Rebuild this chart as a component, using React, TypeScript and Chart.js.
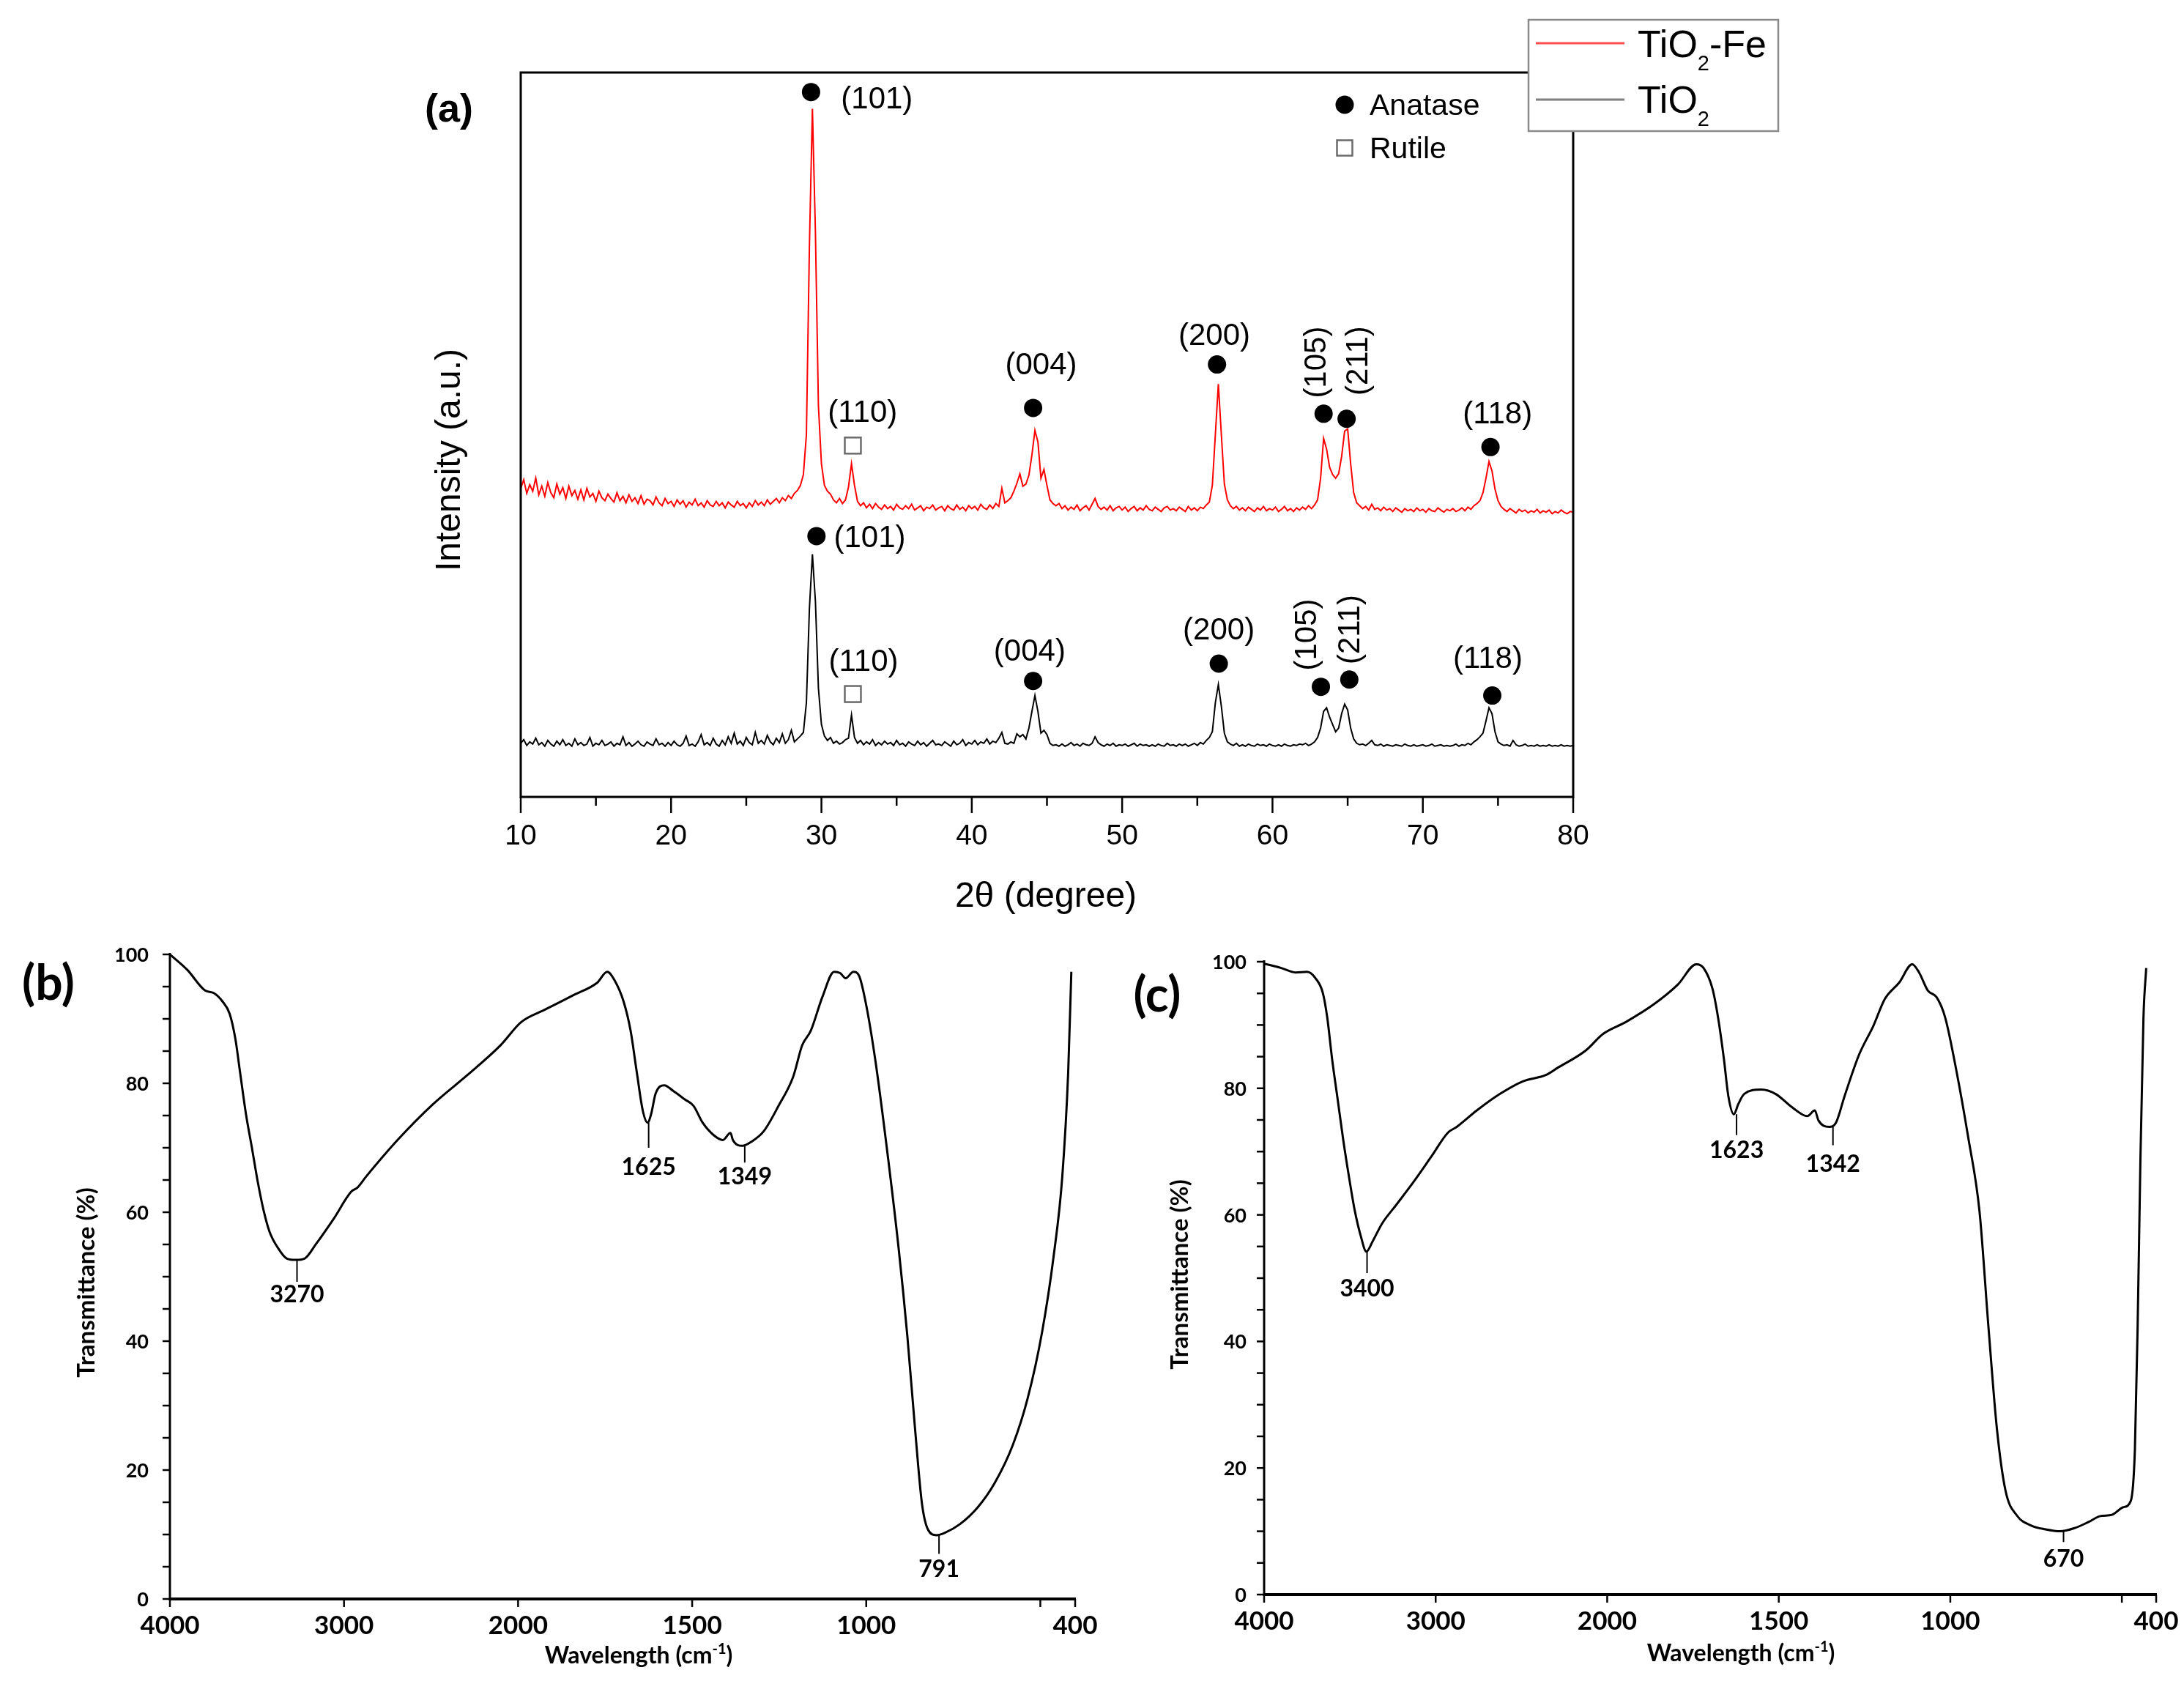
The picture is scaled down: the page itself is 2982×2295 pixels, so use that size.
import React, { useEffect, useRef } from 'react';
import Chart from 'chart.js/auto';

const SANS = '"Liberation Sans", Arial, sans-serif';
const LATO = 'Lato, "DejaVu Sans", sans-serif';

// ---------- (a) XRD ----------
// 2θ sampling grid, one reading every 0.2°
const twoTheta = Array.from({ length: 351 }, (_, i) => Math.round(100 + i * 2) / 10);

const xrdFe = [
  42.6, 43.8, 41.9, 43.1, 42.2, 44.0, 41.7, 42.9, 41.5, 43.4, // 10
  42.0, 41.3, 43.2, 41.8, 42.7, 41.2, 42.9, 41.6, 42.3, 41.1, // 12
  42.4, 41.0, 42.6, 41.4, 41.9, 40.8, 42.2, 41.3, 40.9, 41.8, // 14
  41.2, 40.7, 42.0, 40.9, 41.5, 40.6, 41.7, 40.8, 41.3, 40.5, // 16
  41.6, 40.4, 41.1, 40.9, 40.3, 41.4, 40.6, 40.2, 41.2, 40.5, // 18
  40.8, 40.1, 41.0, 40.4, 40.9, 40.0, 40.7, 40.3, 41.1, 40.2, // 20
  40.6, 40.0, 40.9, 40.3, 40.1, 40.8, 40.2, 40.6, 39.9, 40.7, // 22
  40.3, 40.0, 40.8, 40.2, 40.5, 39.9, 40.6, 40.1, 40.9, 40.3, // 24
  40.7, 40.2, 41.0, 40.4, 40.8, 41.2, 40.6, 41.3, 40.9, 41.6, // 26
  41.2, 41.9, 42.3, 43.0, 44.5, 50.0, 76.0, 95.0, 78.0, 54.0, // 28
  46.0, 43.0, 42.2, 41.8, 41.0, 40.6, 41.2, 40.5, 41.0, 42.8, // 30
  46.0, 43.0, 40.8, 40.2, 40.6, 39.9, 40.4, 39.8, 40.5, 40.0, // 32
  39.7, 40.3, 39.8, 40.1, 39.6, 40.4, 39.9, 39.7, 40.2, 39.8, // 34
  40.4, 39.6, 39.9, 40.2, 39.5, 40.0, 39.8, 40.3, 39.6, 39.9, // 36
  40.1, 39.5, 40.2, 39.8, 39.6, 40.3, 39.7, 40.0, 39.5, 40.2, // 38
  39.8, 40.1, 39.6, 40.4, 39.9, 39.7, 40.3, 39.8, 40.5, 40.1, // 40
  42.6, 40.6, 40.9, 41.3, 42.2, 43.3, 44.6, 42.9, 43.2, 44.4, // 42
  47.2, 50.6, 49.0, 44.0, 45.2, 43.0, 41.0, 40.5, 40.2, 40.5, // 44
  39.8, 40.2, 39.6, 40.0, 39.7, 40.3, 39.5, 39.9, 40.2, 39.6, // 46
  40.4, 41.2, 40.1, 39.7, 40.0, 39.6, 40.2, 39.5, 39.9, 40.1, // 48
  39.6, 40.0, 39.4, 39.8, 40.1, 39.5, 39.9, 39.6, 40.2, 39.7, // 50
  39.5, 40.0, 39.7, 39.4, 39.9, 40.1, 39.6, 39.8, 39.5, 40.0, // 52
  39.7, 39.4, 40.1, 39.6, 39.9, 39.5, 40.0, 39.8, 40.3, 40.7, // 54
  43.0, 50.0, 57.0, 50.0, 43.2, 41.0, 40.2, 39.8, 40.1, 39.6, // 56
  39.9, 39.5, 40.0, 39.7, 39.4, 39.9, 39.6, 40.1, 39.5, 39.8, // 58
  39.6, 40.0, 39.4, 39.7, 40.1, 39.5, 39.8, 39.4, 39.9, 39.6, // 60
  40.0, 39.7, 40.2, 39.8, 40.3, 41.0, 44.0, 49.5, 48.0, 45.5, // 62
  44.5, 44.0, 44.6, 47.0, 50.5, 50.8, 46.0, 42.0, 40.6, 40.2, // 64
  39.8, 40.1, 39.6, 40.4, 39.7, 39.9, 39.5, 40.0, 39.6, 39.8, // 66
  39.4, 39.9, 39.6, 39.3, 39.8, 39.5, 39.7, 39.4, 39.9, 39.5, // 68
  39.7, 39.3, 39.8, 39.5, 39.4, 39.9, 39.6, 39.3, 39.7, 39.5, // 70
  39.8, 39.4, 39.6, 39.9, 39.5, 40.0, 39.7, 40.2, 40.5, 40.9, // 72
  42.0, 44.0, 46.3, 45.0, 42.5, 40.9, 40.1, 39.7, 39.4, 39.8, // 74
  39.5, 39.2, 39.7, 39.4, 39.6, 39.2, 39.5, 39.3, 39.7, 39.2, // 76
  39.5, 39.3, 39.6, 39.1, 39.4, 39.2, 39.6, 39.3, 39.1, 39.4, // 78
  39.3, // 80
];

const xrdTiO2 = [
  7.4, 7.9, 7.1, 7.6, 7.3, 8.1, 7.2, 7.5, 7.0, 7.8, // 10
  7.3, 7.0, 7.7, 7.2, 7.9, 7.1, 7.4, 7.0, 8.0, 7.2, // 12
  7.5, 7.1, 7.3, 8.2, 7.0, 7.4, 7.2, 7.8, 7.1, 7.3, // 14
  7.6, 7.0, 7.4, 7.2, 8.3, 7.1, 7.5, 7.0, 7.3, 7.7, // 16
  7.2, 7.0, 7.6, 7.3, 7.1, 8.0, 7.2, 7.4, 7.0, 7.5, // 18
  7.1, 7.7, 7.2, 7.0, 7.4, 8.4, 7.1, 7.3, 7.0, 7.6, // 20
  8.6, 7.2, 7.5, 7.1, 8.1, 7.3, 7.0, 7.8, 7.2, 8.3, // 22
  7.4, 8.8, 7.3, 7.7, 7.1, 8.2, 7.5, 7.2, 8.9, 7.4, // 24
  7.8, 7.3, 8.5, 7.6, 7.2, 8.1, 7.5, 8.7, 7.4, 7.9, // 26
  9.2, 7.6, 8.0, 8.4, 8.9, 13.0, 26.0, 33.5, 27.0, 15.0, // 28
  10.0, 8.4, 7.8, 8.2, 7.4, 7.7, 7.3, 7.5, 7.9, 8.1, // 30
  11.3, 8.2, 7.4, 7.8, 7.2, 7.6, 7.3, 7.9, 7.1, 7.5, // 32
  7.2, 7.7, 7.3, 7.5, 7.1, 7.8, 7.2, 7.4, 7.0, 7.6, // 34
  7.3, 7.1, 7.7, 7.2, 7.5, 7.0, 7.4, 7.8, 7.2, 7.3, // 36
  7.1, 7.6, 7.3, 7.0, 7.7, 7.2, 7.4, 7.9, 7.1, 7.5, // 38
  7.3, 7.8, 7.2, 7.6, 7.4, 8.0, 7.3, 7.7, 7.5, 8.1, // 40
  8.9, 7.4, 7.3, 7.6, 7.4, 8.7, 8.3, 8.6, 8.0, 9.5, // 42
  11.8, 14.0, 11.8, 8.8, 9.2, 8.6, 7.4, 7.1, 7.2, 7.0, // 44
  7.3, 7.0, 7.2, 7.5, 7.1, 7.3, 7.0, 7.4, 7.2, 7.1, // 46
  7.4, 8.3, 7.5, 7.2, 7.0, 7.3, 7.1, 7.4, 7.0, 7.2, // 48
  7.1, 7.3, 7.0, 7.2, 7.4, 7.0, 7.3, 7.1, 7.2, 7.0, // 50
  7.2, 7.0, 7.3, 7.1, 7.0, 7.4, 7.1, 7.2, 7.0, 7.3, // 52
  7.1, 7.3, 7.0, 7.2, 7.4, 7.1, 7.5, 7.3, 7.8, 8.2, // 54
  9.0, 13.0, 15.5, 12.5, 8.8, 7.6, 7.3, 7.1, 7.4, 7.0, // 56
  7.2, 7.0, 7.3, 7.1, 7.0, 7.3, 7.1, 7.2, 7.0, 7.3, // 58
  7.1, 7.0, 7.2, 7.0, 7.3, 7.1, 7.0, 7.2, 7.1, 7.3, // 60
  7.2, 7.4, 7.1, 7.3, 7.6, 8.2, 9.5, 11.8, 12.3, 11.0, // 62
  10.0, 9.0, 9.5, 11.5, 12.8, 12.0, 9.5, 8.0, 7.4, 7.2, // 64
  7.3, 7.1, 7.4, 7.8, 7.2, 7.1, 7.3, 7.0, 7.2, 7.1, // 66
  7.0, 7.2, 7.1, 7.0, 7.3, 7.1, 7.0, 7.2, 7.0, 7.1, // 68
  7.2, 7.0, 7.1, 7.3, 7.0, 7.1, 7.2, 7.0, 7.1, 7.0, // 70
  7.1, 7.3, 7.0, 7.2, 7.1, 7.4, 7.2, 7.6, 7.9, 8.3, // 72
  8.8, 10.5, 12.3, 11.5, 9.0, 7.6, 7.3, 7.1, 7.2, 7.0, // 74
  7.8, 7.2, 7.0, 7.1, 7.3, 7.0, 7.1, 7.0, 7.2, 7.0, // 76
  7.1, 7.0, 7.2, 7.0, 7.1, 7.0, 7.2, 7.0, 7.1, 7.0, // 78
  7.1, // 80
];

const xrdTicks = [10, 15, 20, 25, 30, 35, 40, 45, 50, 55, 60, 65, 70, 75, 80];

// reflections, marker / label positions in (2θ, intensity) units
const peakNames = ['(101)', '(110)', '(004)', '(200)', '(105)', '(211)', '(118)'];
const peakRutile = [false, true, false, false, false, false, false];
const peakRotated = [false, false, false, false, true, true, false];
const feMarkX = [29.31, 32.09, 44.08, 56.31, 63.4, 64.93, 74.5];
const feMarkY = [97.3, 48.5, 53.7, 59.7, 52.9, 52.2, 48.3];
const feLabelX = [33.69, 32.74, 44.61, 56.13, 62.98, 65.76, 74.97];
const feLabelY = [96.2, 52.9, 59.5, 63.5, 60.0, 60.2, 52.7];
const tiMarkX = [29.67, 32.09, 44.08, 56.43, 63.22, 65.11, 74.62];
const tiMarkY = [36.0, 14.2, 16.0, 18.4, 15.2, 16.2, 14.0];
const tiLabelX = [33.21, 32.8, 43.85, 56.43, 62.39, 65.23, 74.32];
const tiLabelY = [35.6, 18.5, 19.9, 22.9, 22.4, 23.1, 18.9];

// ---------- (b), (c) FTIR ----------
const ftirTickWaves = [4000, 3000, 2000, 1500, 1000, 500, 400];
const ftirTickLabels = ['4000', '3000', '2000', '1500', '1000', '', '400'];
const ftirYTicks = [0, 5, 10, 15, 20, 25, 30, 35, 40, 45, 50, 55, 60, 65, 70, 75, 80, 85, 90, 95, 100];

const bWave = [4000, 3900, 3798, 3748, 3698, 3657, 3624, 3597, 3563, 3529, 3496, 3462, 3428, 3378, 3328, 3277, 3227, 3160, 3059, 2958,
  2924, 2874, 2689, 2487, 2286, 2101, 1991, 1924, 1840, 1773, 1744, 1723, 1697, 1677, 1659, 1642, 1628, 1618, 1605, 1580,
  1554, 1521, 1496, 1470, 1437, 1412, 1390, 1383, 1356, 1328, 1294, 1252, 1210, 1184, 1159, 1126, 1092, 1075, 1059, 1037,
  1020, 1000, 974, 941, 907, 882, 860, 840, 823, 798, 773, 731, 680, 630, 579, 537, 495, 462, 437, 420, 411];
const bTrans = [100, 97.6, 94.4, 94.0, 92.7, 90.8, 86.9, 81.7, 75.2, 70.0, 64.8, 60.3, 57.0, 54.4, 52.8, 52.6, 52.8, 55.1, 59.0, 63.2,
  63.8, 65.5, 71.3, 76.8, 81.4, 85.9, 89.5, 91.4, 93.7, 95.6, 97.3, 96.0, 92.7, 88.2, 81.7, 75.8, 73.9, 75.2, 78.4, 79.7,
  78.8, 77.5, 76.5, 73.9, 71.9, 71.2, 72.3, 71.2, 70.3, 71.0, 72.6, 76.5, 81.0, 85.9, 88.2, 93.4, 97.3, 97.1, 96.3, 97.3,
  96.6, 92.1, 83.6, 70.0, 54.4, 40.8, 26.5, 14.8, 10.8, 9.9, 10.3, 11.6, 14.2, 18.1, 23.9, 31.0, 41.4, 53.1, 65.5, 81.7, 97.3];
const bPeakWave = [3270, 1625, 1349, 791];
const bPeakTop = [52.6, 73.9, 70.3, 9.9];
const bPeakBottom = [49.2, 70.0, 67.7, 7.0];
const bPeakLabel = [47.3, 67.1, 65.6, 4.7];

const cWave = [4000, 3900, 3816, 3749, 3698, 3658, 3632, 3604, 3571, 3538, 3504, 3471, 3437, 3404, 3364, 3313, 3229, 3129, 3028, 2928,
  2877, 2760, 2626, 2492, 2358, 2291, 2124, 2024, 1945, 1861, 1794, 1740, 1719, 1693, 1677, 1660, 1647, 1631, 1618, 1601,
  1551, 1509, 1459, 1417, 1395, 1384, 1353, 1333, 1308, 1266, 1224, 1191, 1149, 1111, 1091, 1065, 1040, 1015, 982, 948,
  915, 889, 864, 839, 806, 764, 722, 680, 638, 596, 563, 529, 496, 474, 462, 454, 446, 437, 429];
const cTrans = [99.7, 99.0, 98.3, 98.4, 97.3, 95.1, 91.2, 84.7, 78.2, 71.7, 65.8, 60.6, 56.7, 54.2, 56.0, 58.6, 61.6, 65.2, 69.1, 73.0,
  73.9, 76.5, 79.1, 81.1, 82.1, 83.2, 86.0, 88.6, 90.5, 93.4, 96.4, 99.6, 99.0, 95.7, 91.2, 84.7, 78.8, 75.9, 77.5, 79.1,
  79.8, 79.1, 76.9, 75.6, 76.5, 74.9, 73.9, 74.6, 78.8, 85.3, 89.9, 94.1, 96.7, 99.6, 98.3, 95.4, 94.4, 91.2, 82.7, 72.3,
  60.6, 42.4, 26.1, 16.4, 12.5, 10.9, 10.3, 10.0, 10.5, 11.5, 12.4, 12.6, 13.8, 14.8, 22.9, 42.4, 68.4, 91.2, 99.0];
const cPeakWave = [3400, 1623, 1342, 670];
const cPeakTop = [54.2, 75.9, 73.9, 10.0];
const cPeakBottom = [50.8, 72.6, 71.0, 8.3];
const cPeakLabel = [48.4, 70.2, 68.1, 5.7];

// the FTIR axis is split: 4000-2000 at half the scale of 2000-400
const waveToT = (w: number) => (w >= 2000 ? (4000 - w) / 2 : 1000 + (2000 - w));

type Box = { left: number; top: number; width: number; height: number };
type Area = { left: number; top: number; right: number; bottom: number };

const line = (ctx: CanvasRenderingContext2D, x1: number, y1: number, x2: number, y2: number) => {
  ctx.beginPath();
  ctx.moveTo(x1, y1);
  ctx.lineTo(x2, y2);
  ctx.stroke();
};

const vtext = (ctx: CanvasRenderingContext2D, s: string, cx: number, cy: number, font: string, shift: number) => {
  ctx.save();
  ctx.translate(cx, cy);
  ctx.rotate(-Math.PI / 2);
  ctx.font = font;
  ctx.textAlign = 'center';
  ctx.fillText(s, 0, shift);
  ctx.restore();
};

const padFor = (box: Box, plot: Area) => ({
  left: plot.left - box.left,
  top: plot.top - box.top,
  right: box.left + box.width - plot.right,
  bottom: box.top + box.height - plot.bottom,
});

function XrdChart() {
  const ref = useRef<HTMLCanvasElement>(null);
  const box: Box = { left: 560, top: 0, width: 1900, height: 1262 };
  const plot: Area = { left: 711, top: 99, right: 2148, bottom: 1088 };

  useEffect(() => {
    if (!ref.current) return;
    const L = box.left, T = box.top;

    const decor = {
      id: 'xrdDecor',
      afterDatasetsDraw(chart: any) {
        const { ctx, chartArea: a } = chart;
        const sx = chart.scales.x, sy = chart.scales.y;
        ctx.save();
        ctx.strokeStyle = '#000';
        ctx.fillStyle = '#000';
        ctx.textBaseline = 'alphabetic';

        // frame
        ctx.lineWidth = 3;
        ctx.strokeRect(a.left, a.top, a.right - a.left, a.bottom - a.top);

        // x ticks
        ctx.lineWidth = 2.5;
        ctx.font = `39px ${SANS}`;
        ctx.textAlign = 'center';
        xrdTicks.forEach((v) => {
          const px = sx.getPixelForValue(v);
          const major = v % 10 === 0;
          line(ctx, px, a.bottom, px, a.bottom + (major ? 22 : 12));
          if (major) ctx.fillText(String(v), px, a.bottom + 65);
        });

        // titles
        ctx.font = `48px ${SANS}`;
        ctx.fillText('2\u03b8 (degree)', 1428 - L, 1226 - T + 12);
        vtext(ctx, 'Intensity (a.u.)', 616 - L, 628 - T, `48px ${SANS}`, 12);
        ctx.font = `bold 54px ${SANS}`;
        ctx.textAlign = 'center';
        ctx.fillText('(a)', 613 - L, 152 - T + 14);

        // reflections
        const marks = (mx: number[], my: number[], lx: number[], ly: number[]) => {
          peakNames.forEach((name, i) => {
            const px = sx.getPixelForValue(mx[i]);
            const py = sy.getPixelForValue(my[i]);
            if (peakRutile[i]) {
              ctx.fillStyle = '#fff';
              ctx.fillRect(px - 11, py - 11, 22, 22);
              ctx.strokeStyle = '#6b6b6b';
              ctx.lineWidth = 2.5;
              ctx.strokeRect(px - 11, py - 11, 22, 22);
            } else {
              ctx.fillStyle = '#000';
              ctx.beginPath();
              ctx.arc(px, py, 12.5, 0, Math.PI * 2);
              ctx.fill();
            }
            ctx.fillStyle = '#000';
            const tx = sx.getPixelForValue(lx[i]);
            const ty = sy.getPixelForValue(ly[i]);
            if (peakRotated[i]) {
              vtext(ctx, name, tx, ty, `42px ${SANS}`, 11);
            } else {
              ctx.font = `42px ${SANS}`;
              ctx.textAlign = 'center';
              ctx.fillText(name, tx, ty + 11);
            }
          });
        };
        marks(feMarkX, feMarkY, feLabelX, feLabelY);
        marks(tiMarkX, tiMarkY, tiLabelX, tiLabelY);

        // phase key
        ctx.fillStyle = '#000';
        ctx.beginPath();
        ctx.arc(1836 - L, 143 - T, 12.5, 0, Math.PI * 2);
        ctx.fill();
        ctx.fillStyle = '#fff';
        ctx.fillRect(1836 - L - 10.5, 202 - T - 10.5, 21, 21);
        ctx.strokeStyle = '#6b6b6b';
        ctx.lineWidth = 2.5;
        ctx.strokeRect(1836 - L - 10.5, 202 - T - 10.5, 21, 21);
        ctx.fillStyle = '#000';
        ctx.font = `41px ${SANS}`;
        ctx.textAlign = 'left';
        ctx.fillText('Anatase', 1870 - L, 157 - T);
        ctx.fillText('Rutile', 1870 - L, 216 - T);

        // series legend
        ctx.fillStyle = '#fff';
        ctx.fillRect(2087 - L, 27 - T, 341, 152);
        ctx.strokeStyle = '#8a8a8a';
        ctx.lineWidth = 2.5;
        ctx.strokeRect(2087 - L, 27 - T, 341, 152);
        const rows = [
          { y: 59, base: 78, parts: ['TiO', '2', '-Fe'] },
          { y: 136, base: 154, parts: ['TiO', '2', ''] },
        ];
        rows.forEach((r, i) => {
          const ds = chart.data.datasets[i];
          ctx.save();
          ctx.globalAlpha = i === 0 ? 0.7 : 0.5;
          ctx.strokeStyle = ds.borderColor;
          ctx.lineWidth = 3;
          line(ctx, 2097 - L, r.y - T, 2218 - L, r.y - T);
          ctx.restore();
          ctx.fillStyle = '#000';
          ctx.textAlign = 'left';
          let cx = 2236 - L;
          r.parts.forEach((p, k) => {
            const sub = k === 1;
            ctx.font = sub ? `29px ${SANS}` : `52px ${SANS}`;
            ctx.fillText(p, cx, (sub ? r.base + 18 : r.base) - T);
            cx += ctx.measureText(p).width;
          });
        });
        ctx.restore();
      },
    };

    const chart = new Chart(ref.current, {
      type: 'line',
      data: {
        datasets: [
          {
            label: 'TiO2-Fe',
            data: twoTheta.map((t, i) => ({ x: t, y: xrdFe[i] })),
            borderColor: '#ff0000',
            borderWidth: 2,
            pointRadius: 0,
            tension: 0,
          },
          {
            label: 'TiO2',
            data: twoTheta.map((t, i) => ({ x: t, y: xrdTiO2[i] })),
            borderColor: '#000000',
            borderWidth: 2,
            pointRadius: 0,
            tension: 0,
          },
        ],
      },
      options: {
        responsive: false,
        animation: false,
        devicePixelRatio: 1,
        events: [],
        layout: { padding: padFor(box, plot) },
        scales: {
          x: { type: 'linear', min: 10, max: 80, display: false },
          y: { type: 'linear', min: 0, max: 100, display: false },
        },
        plugins: { legend: { display: false }, tooltip: { enabled: false } },
      },
      plugins: [decor],
    });

    return () => chart.destroy();
  }, []);

  return (
    <canvas
      ref={ref}
      width={box.width}
      height={box.height}
      style={{ position: 'absolute', left: box.left, top: box.top, width: box.width, height: box.height }}
    />
  );
}

type FtirProps = {
  box: Box;
  plot: Area;
  wave: number[];
  trans: number[];
  peakWave: number[];
  peakTop: number[];
  peakBottom: number[];
  peakLabel: number[];
  tag: string;
  tagAt: [number, number];
  yTitleAt: [number, number];
  xTitleAt: [number, number];
  labelGap: number;
};

function FtirChart(props: FtirProps) {
  const ref = useRef<HTMLCanvasElement>(null);
  const { box, plot } = props;

  useEffect(() => {
    if (!ref.current) return;
    const L = box.left, T = box.top;
    const p = props;

    const decor = {
      id: 'ftirDecor',
      afterDatasetsDraw(chart: any) {
        const { ctx, chartArea: a } = chart;
        const sx = chart.scales.x, sy = chart.scales.y;
        ctx.save();
        ctx.strokeStyle = '#000';
        ctx.fillStyle = '#000';
        ctx.textBaseline = 'alphabetic';

        // axes
        ctx.lineWidth = 3;
        line(ctx, a.left, a.top - 2, a.left, a.bottom + 2);
        ctx.lineWidth = 4;
        line(ctx, a.left, a.bottom, a.right + 1, a.bottom);

        // y ticks
        ctx.lineWidth = 2.5;
        ctx.font = `bold 27px ${LATO}`;
        ctx.textAlign = 'right';
        ftirYTicks.forEach((v) => {
          const py = sy.getPixelForValue(v);
          line(ctx, a.left - 10, py, a.left, py);
          if (v % 20 === 0) ctx.fillText(String(v), a.left - p.labelGap, py + 10);
        });

        // x ticks
        ctx.font = `bold 35px ${LATO}`;
        ctx.textAlign = 'center';
        ftirTickWaves.forEach((w, i) => {
          const px = sx.getPixelForValue(waveToT(w));
          line(ctx, px, a.bottom, px, a.bottom + 11);
          if (ftirTickLabels[i]) ctx.fillText(ftirTickLabels[i], px, a.bottom + 48);
        });

        // x title with superscript
        const main = `bold 32px ${LATO}`;
        const sup = `bold 20px ${LATO}`;
        ctx.font = main;
        const w1 = ctx.measureText('Wavelength (cm').width;
        const w3 = ctx.measureText(')').width;
        ctx.font = sup;
        const w2 = ctx.measureText('-1').width;
        let x0 = p.xTitleAt[0] - L - (w1 + w2 + w3) / 2;
        const base = p.xTitleAt[1] - T + 8;
        ctx.textAlign = 'left';
        ctx.font = main;
        ctx.fillText('Wavelength (cm', x0, base);
        x0 += w1;
        ctx.font = sup;
        ctx.fillText('-1', x0, base - 13);
        x0 += w2;
        ctx.font = main;
        ctx.fillText(')', x0, base);

        // y title and panel tag
        vtext(ctx, 'Transmittance (%)', p.yTitleAt[0] - L, p.yTitleAt[1] - T, `bold 33px ${LATO}`, 9);
        ctx.font = `bold 66px ${LATO}`;
        ctx.textAlign = 'center';
        ctx.fillText(p.tag, p.tagAt[0] - L, p.tagAt[1] - T + 18);

        // peak markers
        ctx.lineWidth = 2;
        ctx.font = `bold 32px ${LATO}`;
        ctx.textAlign = 'center';
        p.peakWave.forEach((w, i) => {
          const px = sx.getPixelForValue(waveToT(w));
          line(ctx, px, sy.getPixelForValue(p.peakTop[i]), px, sy.getPixelForValue(p.peakBottom[i]));
          ctx.fillText(String(w), px, sy.getPixelForValue(p.peakLabel[i]) + 11);
        });
        ctx.restore();
      },
    };

    const chart = new Chart(ref.current, {
      type: 'line',
      data: {
        datasets: [
          {
            label: 'Transmittance',
            data: p.wave.map((w, i) => ({ x: waveToT(w), y: p.trans[i] })),
            borderColor: '#000000',
            borderWidth: 3,
            pointRadius: 0,
            cubicInterpolationMode: 'monotone',
          },
        ],
      },
      options: {
        responsive: false,
        animation: false,
        devicePixelRatio: 1,
        events: [],
        layout: { padding: padFor(box, plot) },
        scales: {
          x: { type: 'linear', min: 0, max: 2600, display: false },
          y: { type: 'linear', min: 0, max: 100, display: false },
        },
        plugins: { legend: { display: false }, tooltip: { enabled: false } },
      },
      plugins: [decor],
    });

    return () => chart.destroy();
  }, []);

  return (
    <canvas
      ref={ref}
      width={box.width}
      height={box.height}
      style={{ position: 'absolute', left: box.left, top: box.top, width: box.width, height: box.height }}
    />
  );
}

export default function App() {
  return (
    <div style={{ position: 'absolute', left: 0, top: 0, width: 2982, height: 2295, background: '#fff', overflow: 'hidden' }}>
      <XrdChart />
      <FtirChart
        box={{ left: 0, top: 1262, width: 1500, height: 1033 }}
        plot={{ left: 232, top: 1303, right: 1468, bottom: 2183 }}
        wave={bWave}
        trans={bTrans}
        peakWave={bPeakWave}
        peakTop={bPeakTop}
        peakBottom={bPeakBottom}
        peakLabel={bPeakLabel}
        tag="(b)"
        tagAt={[66, 1347]}
        yTitleAt={[120, 1751]}
        xTitleAt={[872, 2263]}
        labelGap={29}
      />
      <FtirChart
        box={{ left: 1500, top: 1262, width: 1482, height: 1033 }}
        plot={{ left: 1726, top: 1313, right: 2944, bottom: 2177 }}
        wave={cWave}
        trans={cTrans}
        peakWave={cPeakWave}
        peakTop={cPeakTop}
        peakBottom={cPeakBottom}
        peakLabel={cPeakLabel}
        tag="(c)"
        tagAt={[1580, 1363]}
        yTitleAt={[1613, 1740]}
        xTitleAt={[2377, 2260]}
        labelGap={24}
      />
    </div>
  );
}
